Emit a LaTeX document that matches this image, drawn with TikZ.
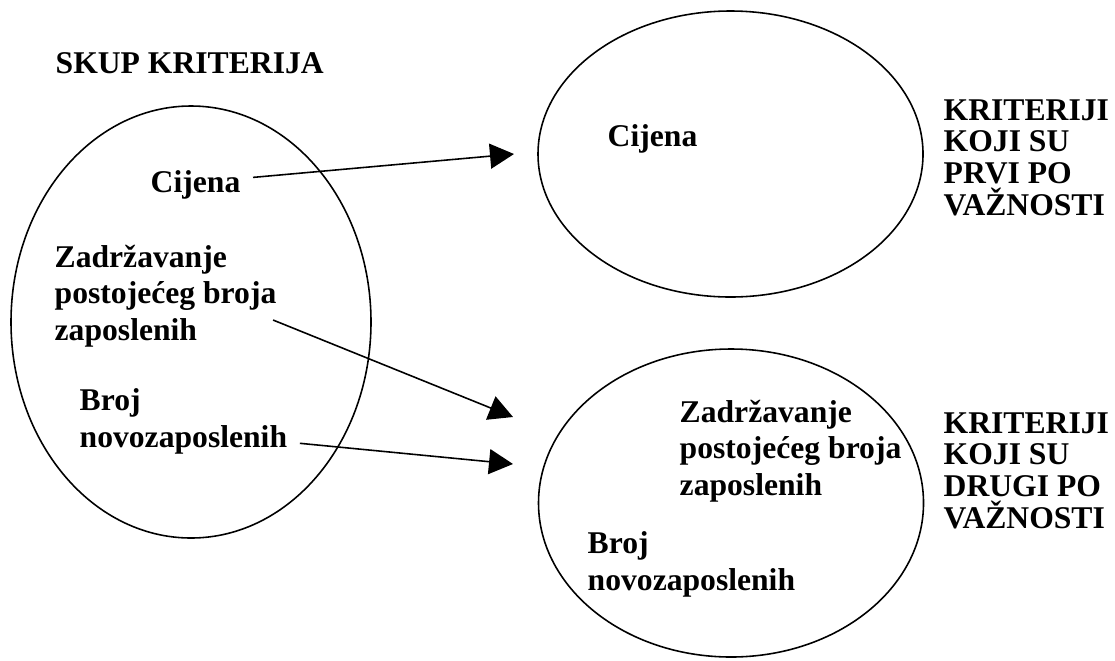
\documentclass[tikz,border=0pt]{standalone}
\usepackage{fontspec}
\setmainfont{Liberation Serif}
\usetikzlibrary{arrows.meta,positioning,shapes.geometric}

\tikzset{
  skup/.style={draw, ellipse, line width=0.45pt, inner sep=0pt},
  crit/.style={anchor=base west, inner sep=0pt, align=left,
    font=\bfseries\fontsize{9pt}{10.3pt}\selectfont},
  label/.style={anchor=base west, inner sep=0pt, align=left,
    font=\bfseries\fontsize{9pt}{9pt}\selectfont},
  arr/.style={line width=0.45pt, -{Triangle[length=2.4mm,width=2.5mm]}}
}

\begin{document}
\begin{tikzpicture}
			 \useasboundingbox (0,0) rectangle (11.15,6.60);
			 % ellipses
			 \node[skup, minimum width=3.60cm, minimum height=4.32cm] (all) at (1.91,3.38) {};
			 \node[skup, minimum width=3.85cm, minimum height=2.86cm] (first) at (7.305,5.06) {};
			 \node[skup, minimum width=3.85cm, minimum height=3.08cm] (second) at (7.31,1.57) {};
			 % texts (base = last line)
			 \node[crit] (title) at (0.55,5.87) {SKUP KRITERIJA};
			 \node[crit] (cijenaL) at (1.50,4.68) {Cijena};
			 \node[crit] (zadL) at (0.54,3.20) {Zadržavanje\\postojećeg broja\\zaposlenih};
			 \node[crit] (brojL) at (0.79,2.13) {Broj\\novozaposlenih};
			 \node[crit] (cijenaR) at (6.07,5.14) {Cijena};
			 \node[crit] (zadR) at (6.79,1.65) {Zadržavanje\\postojećeg broja\\zaposlenih};
			 \node[crit] (brojR) at (5.87,0.70) {Broj\\novozaposlenih};
			 \node[label] (prvi) at (9.43,4.45) {KRITERIJI\\KOJI SU\\PRVI PO\\VAŽNOSTI};
			 \node[label] (drugi) at (9.43,1.32) {KRITERIJI\\KOJI SU\\DRUGI PO\\VAŽNOSTI};
			 % arrow tips
			 \coordinate (tipA) at (5.14,5.06);
			 \coordinate (tipB) at (5.13,2.43);
			 \coordinate (tipC) at (5.13,1.96);
			 \draw[arr] ([shift={(0.12,0.07)}]cijenaL.east) -- (tipA);
			 \draw[arr] ([shift={(-0.04,-0.24)}]zadL.east) -- (tipB);
			 \draw[arr] ([shift={(0.12,-0.22)}]brojL.east) -- (tipC);
			\end{tikzpicture}
\end{document}
